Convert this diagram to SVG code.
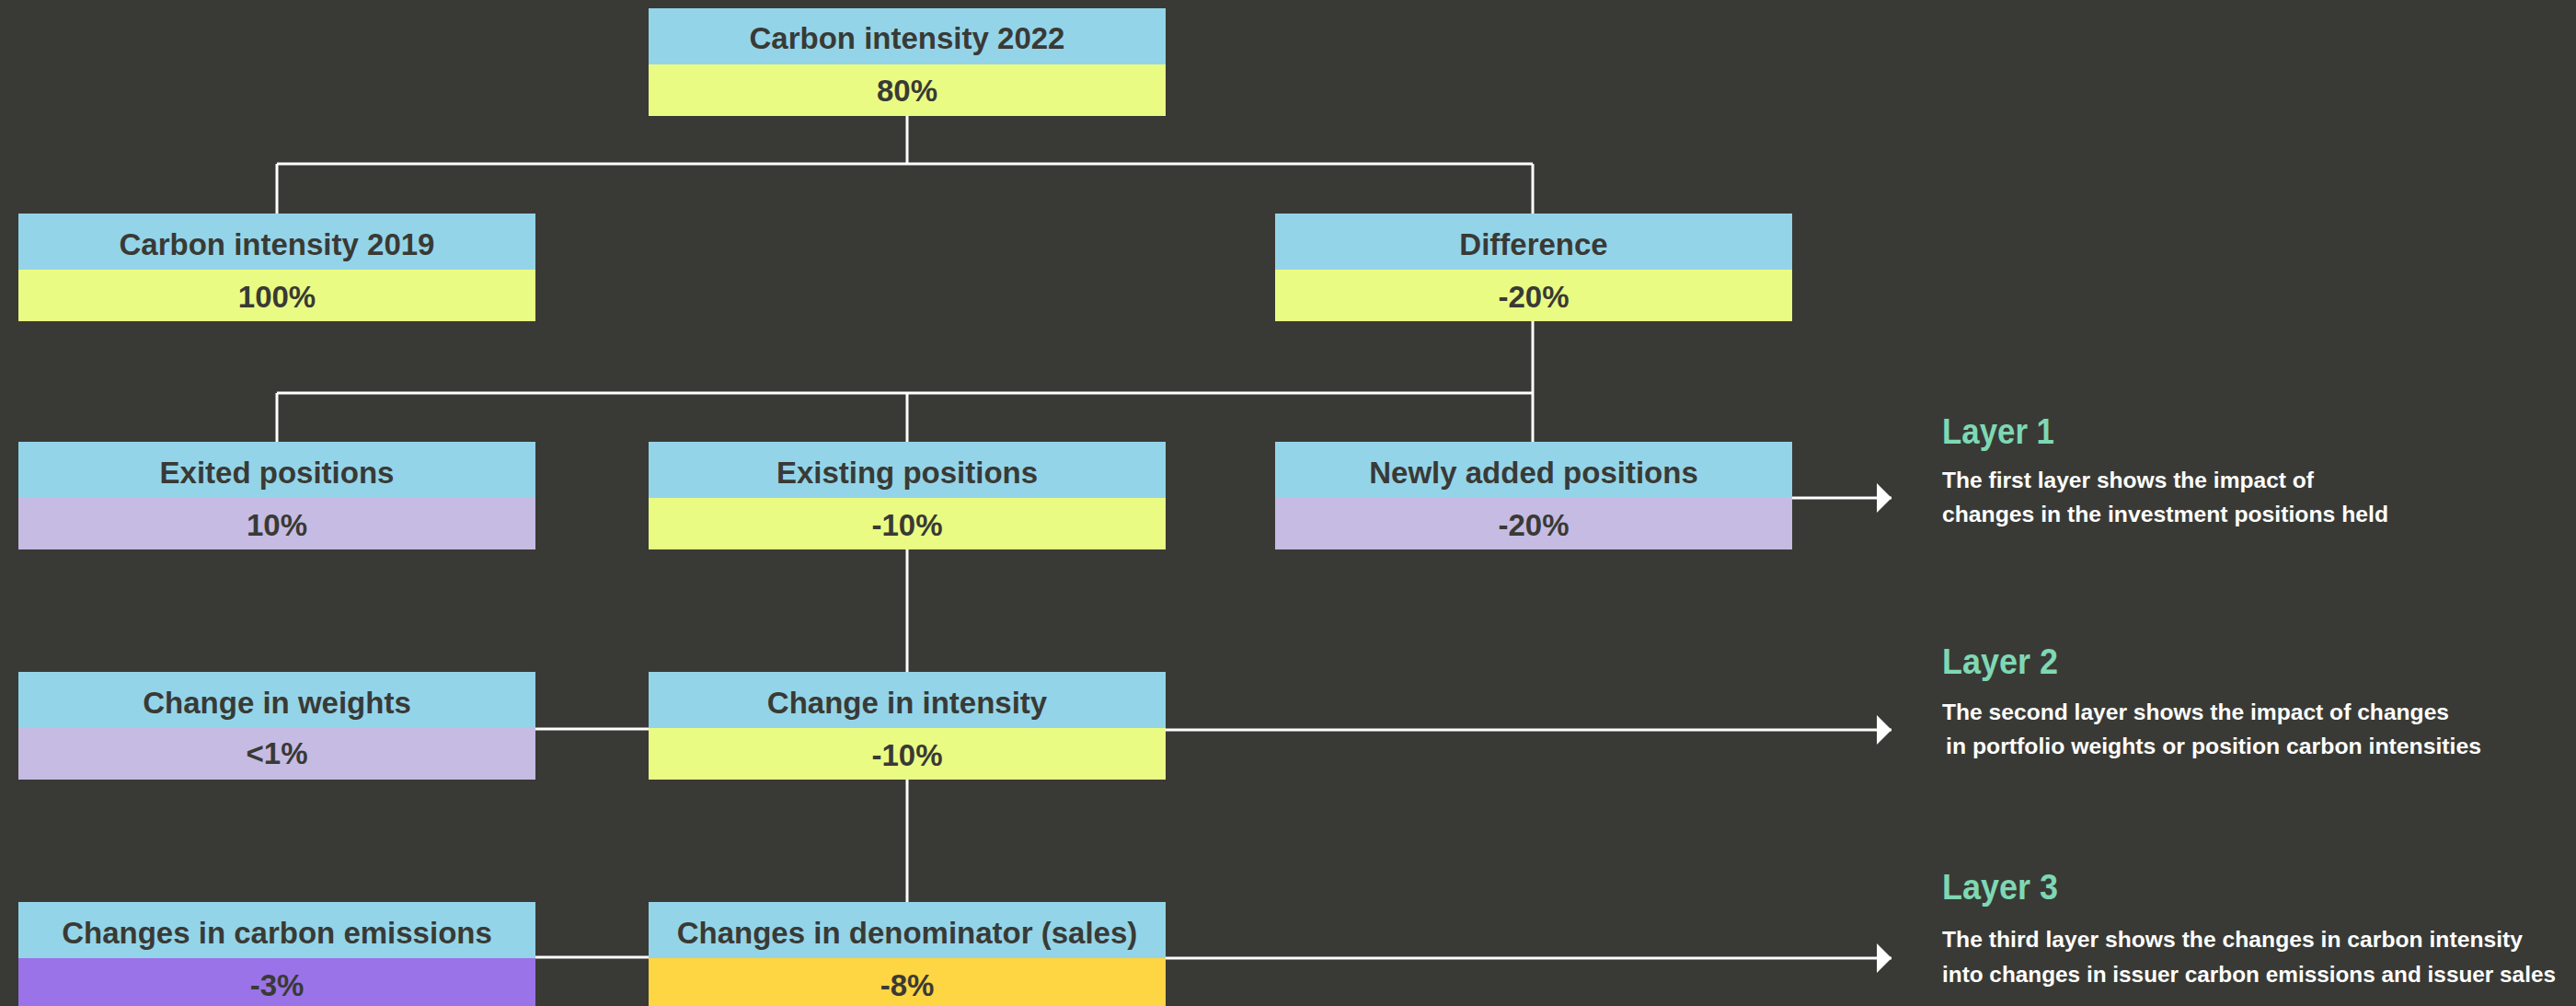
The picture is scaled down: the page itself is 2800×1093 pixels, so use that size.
<svg xmlns="http://www.w3.org/2000/svg" width="2800" height="1093" viewBox="0 0 2800 1093">
<defs>
<style>
.hd{fill:#94D4E9}
.y{fill:#EAFB83}
.l{fill:#C6BBE3}
.p{fill:#9A73E8}
.g{fill:#FED543}
.t{font-family:"Liberation Sans",Arial,sans-serif;font-weight:bold;font-size:33px;fill:#393A35;text-anchor:middle}
.c{stroke:#FFFFFF;stroke-width:3;fill:none}
.lt{font-family:"Liberation Sans",Arial,sans-serif;font-weight:bold;font-size:39px;fill:#7ED8B4}
.ld{font-family:"Liberation Sans",Arial,sans-serif;font-weight:bold;font-size:24px;fill:#FFFFFF}
</style>
<marker id="ah" markerUnits="userSpaceOnUse" markerWidth="18" markerHeight="34" refX="16" refY="16" orient="auto" viewBox="0 0 18 34">
<path d="M0,0 L16,16 L0,32 Z" fill="#FFFFFF"/>
</marker>
</defs>
<rect x="0" y="0" width="2800" height="1093" fill="#393A35"/>

<g id="connectors">
<path class="c" d="M986,126 V178 M301,178 H1666 M301,178 V232 M1666,178 V232"/>
<path class="c" d="M1666,349 V427 M301,427 H1666 M301,427 V480 M986,427 V480 M1666,427 V480"/>
<path class="c" d="M986,597 V730 M582,792 H705 M986,847 V980 M582,1040 H705"/>
<path class="c" d="M1946,541 H2056" marker-end="url(#ah)"/>
<path class="c" d="M1267,793 H2056" marker-end="url(#ah)"/>
<path class="c" d="M1267,1041 H2056" marker-end="url(#ah)"/>
</g>

<g id="n-ci2022">
<rect class="hd" x="705" y="9" width="562" height="61"/>
<rect class="y" x="705" y="70" width="562" height="56"/>
<text class="t" x="986" y="53">Carbon intensity 2022</text>
<text class="t" x="986" y="110">80%</text>
</g>

<g id="n-ci2019">
<rect class="hd" x="20" y="232" width="562" height="61"/>
<rect class="y" x="20" y="293" width="562" height="56"/>
<text class="t" x="301" y="277">Carbon intensity 2019</text>
<text class="t" x="301" y="334">100%</text>
</g>

<g id="n-diff">
<rect class="hd" x="1386" y="232" width="562" height="61"/>
<rect class="y" x="1386" y="293" width="562" height="56"/>
<text class="t" x="1667" y="277">Difference</text>
<text class="t" x="1667" y="334">-20%</text>
</g>

<g id="n-exited">
<rect class="hd" x="20" y="480" width="562" height="61"/>
<rect class="l" x="20" y="541" width="562" height="56"/>
<text class="t" x="301" y="525">Exited positions</text>
<text class="t" x="301" y="582">10%</text>
</g>

<g id="n-existing">
<rect class="hd" x="705" y="480" width="562" height="61"/>
<rect class="y" x="705" y="541" width="562" height="56"/>
<text class="t" x="986" y="525">Existing positions</text>
<text class="t" x="986" y="582">-10%</text>
</g>

<g id="n-newly">
<rect class="hd" x="1386" y="480" width="562" height="61"/>
<rect class="l" x="1386" y="541" width="562" height="56"/>
<text class="t" x="1667" y="525">Newly added positions</text>
<text class="t" x="1667" y="582">-20%</text>
</g>

<g id="n-weights">
<rect class="hd" x="20" y="730" width="562" height="61"/>
<rect class="l" x="20" y="791" width="562" height="56"/>
<text class="t" x="301" y="775">Change in weights</text>
<text class="t" x="301" y="830">&lt;1%</text>
</g>

<g id="n-intensity">
<rect class="hd" x="705" y="730" width="562" height="61"/>
<rect class="y" x="705" y="791" width="562" height="56"/>
<text class="t" x="986" y="775">Change in intensity</text>
<text class="t" x="986" y="832">-10%</text>
</g>

<g id="n-emissions">
<rect class="hd" x="20" y="980" width="562" height="61"/>
<rect class="p" x="20" y="1041" width="562" height="56"/>
<text class="t" x="301" y="1025">Changes in carbon emissions</text>
<text class="t" x="301" y="1082">-3%</text>
</g>

<g id="n-denominator">
<rect class="hd" x="705" y="980" width="562" height="61"/>
<rect class="g" x="705" y="1041" width="562" height="56"/>
<text class="t" x="986" y="1025">Changes in denominator (sales)</text>
<text class="t" x="986" y="1082">-8%</text>
</g>

<g id="layer1">
<text class="lt" x="2111" y="482" textLength="122" lengthAdjust="spacingAndGlyphs">Layer 1</text>
<text class="ld" x="2111" y="530" textLength="404" lengthAdjust="spacingAndGlyphs">The first layer shows the impact of</text>
<text class="ld" x="2111" y="567" textLength="485" lengthAdjust="spacingAndGlyphs">changes in the investment positions held</text>
</g>
<g id="layer2">
<text class="lt" x="2111" y="732" textLength="126" lengthAdjust="spacingAndGlyphs">Layer 2</text>
<text class="ld" x="2111" y="782" textLength="551" lengthAdjust="spacingAndGlyphs">The second layer shows the impact of changes</text>
<text class="ld" x="2115" y="819" textLength="582" lengthAdjust="spacingAndGlyphs">in portfolio weights or position carbon intensities</text>
</g>
<g id="layer3">
<text class="lt" x="2111" y="977" textLength="126" lengthAdjust="spacingAndGlyphs">Layer 3</text>
<text class="ld" x="2111" y="1029" textLength="631" lengthAdjust="spacingAndGlyphs">The third layer shows the changes in carbon intensity</text>
<text class="ld" x="2111" y="1067" textLength="667" lengthAdjust="spacingAndGlyphs">into changes in issuer carbon emissions and issuer sales</text>
</g>
</svg>
